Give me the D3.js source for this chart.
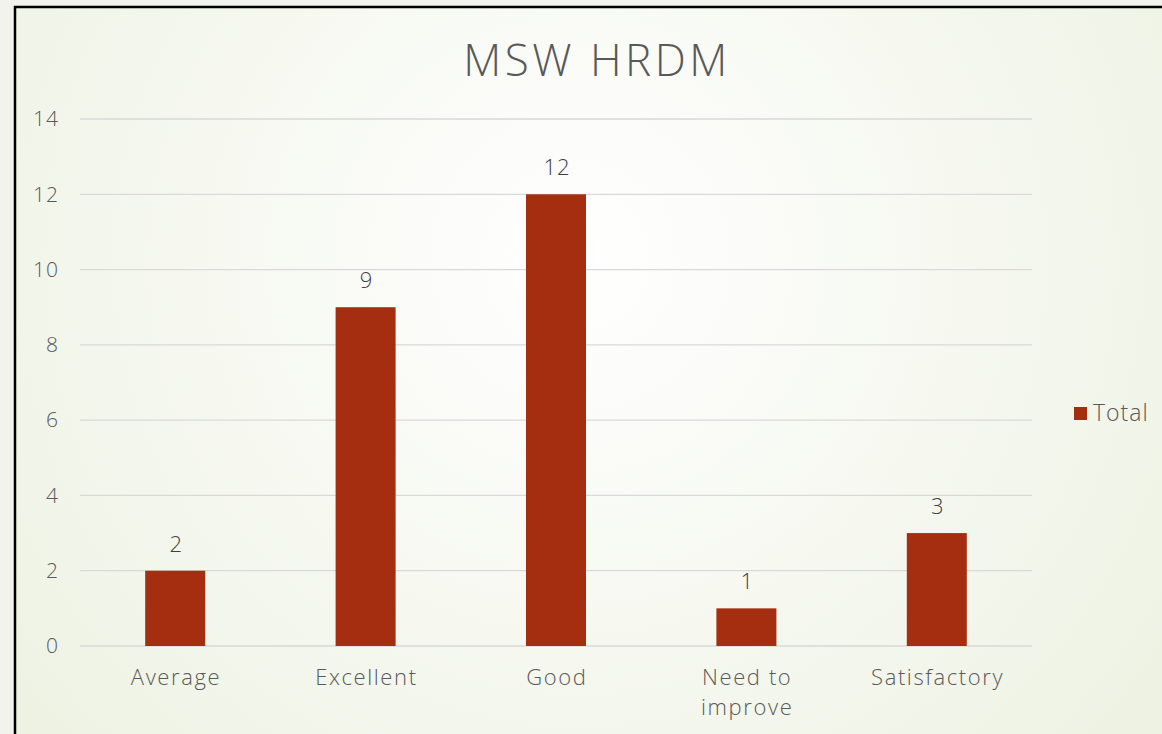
<!DOCTYPE html>
<html><head><meta charset="utf-8">
<script src="https://cdn.jsdelivr.net/npm/d3@7"></script>
<style>html,body{margin:0;padding:0;background:#f2f3ec;}svg{display:block;}</style>
</head><body>
<svg id="chart" width="1162" height="734"></svg>
<script>
const categories = ["Average", "Excellent", "Good", "Need to improve", "Satisfactory"];
const categoryLines = [["Average"], ["Excellent"], ["Good"], ["Need to", "improve"], ["Satisfactory"]];
const totals = [2, 9, 12, 1, 3];
const yTicks = [0, 2, 4, 6, 8, 10, 12, 14];
const title = "MSW HRDM";
const seriesName = "Total";

(function () {
const svg = d3.select("#chart");
const W = 1162, H = 734;
const font = "'Century Gothic', 'Open Sans', sans-serif";
const fw = 300;

const defs = svg.append("defs");
const grad = defs.append("radialGradient").attr("id", "bg")
  .attr("gradientUnits", "userSpaceOnUse")
  .attr("cx", 580).attr("cy", 260).attr("r", 720);
grad.append("stop").attr("offset", "0%").attr("stop-color", "#ffffff");
grad.append("stop").attr("offset", "100%").attr("stop-color", "#eef2e3");

svg.append("rect").attr("width", W).attr("height", H).attr("fill", "#f2f3ec");
svg.append("rect").attr("x", 15).attr("y", 7).attr("width", W + 20).attr("height", H + 20)
  .attr("fill", "url(#bg)").attr("stroke", "#000").attr("stroke-width", 2.5);

const pLeft = 80, pRight = 1032, pTop = 119, pBottom = 646;
const x = d3.scaleBand().domain(categories).range([pLeft, pRight]).padding(0);
const y = d3.scaleLinear().domain([0, 14]).range([pBottom, pTop]);

svg.append("g").selectAll("line").data(yTicks).join("line")
  .attr("x1", pLeft).attr("x2", pRight)
  .attr("y1", d => y(d)).attr("y2", d => y(d))
  .attr("stroke", "#d9d9d9").attr("stroke-width", 1.3);

const yAxis = svg.append("g").attr("transform", `translate(${pLeft},0)`)
  .call(d3.axisLeft(y).tickValues(yTicks).tickSize(0).tickPadding(21));
yAxis.select(".domain").remove();
yAxis.selectAll("text").attr("font-family", font).attr("font-weight", fw)
  .attr("font-size", 21).attr("fill", "#595959").attr("letter-spacing", 1);

const bw = 60;
svg.append("g").selectAll("rect").data(totals).join("rect")
  .attr("x", (d, i) => x(categories[i]) + x.bandwidth() / 2 - bw / 2)
  .attr("width", bw)
  .attr("y", d => y(d))
  .attr("height", d => y(0) - y(d))
  .attr("fill", "#a52e10");

svg.append("g").selectAll("text").data(totals).join("text")
  .attr("x", (d, i) => x(categories[i]) + x.bandwidth() / 2 + 1)
  .attr("y", d => y(d) - 19)
  .attr("text-anchor", "middle")
  .attr("font-family", font).attr("font-weight", fw)
  .attr("font-size", 22).attr("fill", "#404040").attr("letter-spacing", 1)
  .text(d => d);

const ls = 1.6;
const cat = svg.append("g").selectAll("text").data(categories).join("text")
  .attr("y", 685)
  .attr("text-anchor", "middle")
  .attr("font-family", font).attr("font-weight", fw)
  .attr("font-size", 22).attr("fill", "#595959").attr("letter-spacing", ls);
cat.each(function(d, i) {
  d3.select(this).selectAll("tspan").data(categoryLines[i]).join("tspan")
    .attr("x", x(d) + x.bandwidth() / 2 + ls / 2)
    .attr("dy", (t, j) => j === 0 ? 0 : 30)
    .text(t => t);
});

svg.append("text").attr("x", 597).attr("y", 76).attr("text-anchor", "middle")
  .attr("font-family", font).attr("font-weight", fw)
  .attr("font-size", 44).attr("fill", "#595959").attr("letter-spacing", 3.5)
  .text(title);

svg.append("rect").attr("x", 1074).attr("y", 407).attr("width", 13).attr("height", 13).attr("fill", "#a52e10");
svg.append("text").attr("x", 1093).attr("y", 421).attr("font-family", font).attr("font-weight", fw)
  .attr("font-size", 23).attr("fill", "#595959").attr("letter-spacing", 1).text(seriesName);
})();
</script>
</body></html>
